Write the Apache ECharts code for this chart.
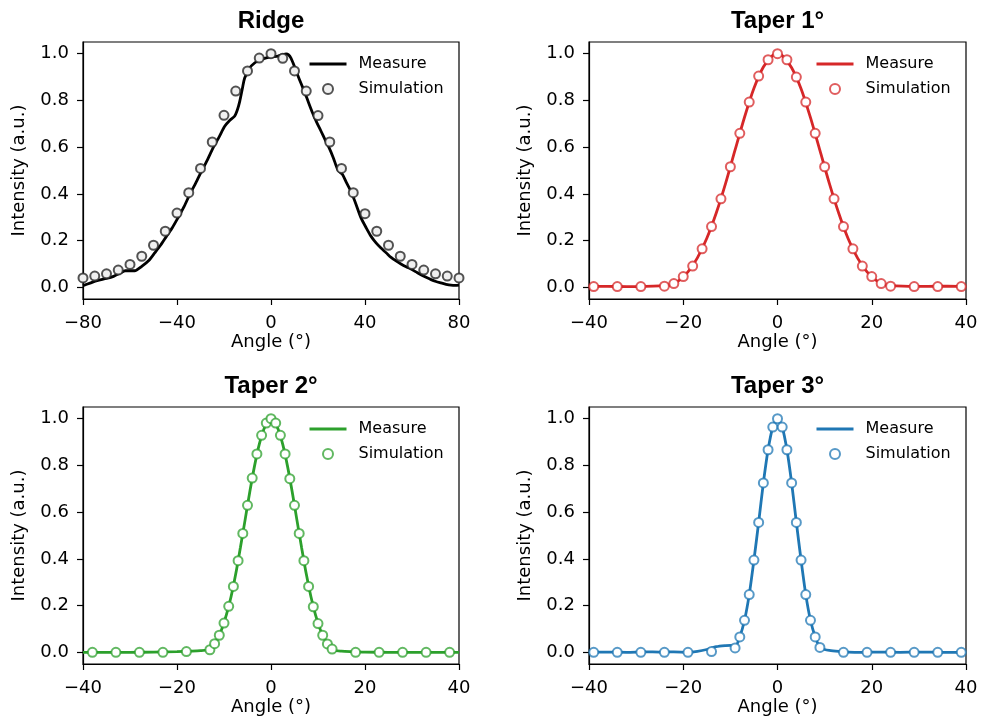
<!DOCTYPE html>
<html>
<head>
<meta charset="utf-8">
<script src="https://cdn.jsdelivr.net/npm/echarts@6/dist/echarts.min.js"></script>
<style>html,body{margin:0;padding:0;background:#fff;}#chart{width:981px;height:720px;}</style>
</head>
<body>
<div id="chart"></div>
<script>
// ---------- data ----------
const panelTitles = ['Ridge', 'Taper 1\u00b0', 'Taper 2\u00b0', 'Taper 3\u00b0'];
const yTicks = [0, 0.2, 0.4, 0.6, 0.8, 1.0];
const xAxisLabel = 'Angle (\u00b0)';
const yAxisLabel = 'Intensity (a.u.)';
const legendNames = ['Measure', 'Simulation'];

// Ridge
const ridgeSimX = [-80,-75,-70,-65,-60,-55,-50,-45,-40,-35,-30,-25,-20,-15,-10,-5,0,5,10,15,20,25,30,35,40,45,50,55,60,65,70,75,80];
const ridgeSimY = [0.040,0.048,0.058,0.074,0.098,0.133,0.180,0.240,0.318,0.405,0.509,0.622,0.736,0.840,0.926,0.981,1.000,0.980,0.926,0.840,0.735,0.622,0.509,0.405,0.315,0.240,0.180,0.133,0.098,0.074,0.058,0.048,0.040];
const ridgeMeasX = [-80,-77,-74,-70,-67,-64,-62,-58,-55,-52,-49.5,-47,-44.5,-42,-39.6,-37,-34.6,-32,-29.6,-27,-24.7,-22,-19.7,-17.5,-15.5,-14.3,-13.3,-12.2,-11.2,-9.1,-7,-4.8,-2,0,3,5,6.4,7.5,8.5,10,11.3,12.8,14.2,16,17.7,19.5,21.3,23,24.8,26.5,28.4,30.5,32,34,36,38.3,40.5,42.6,44.7,46.8,49,51.1,53.2,55.3,57.5,59.6,61.7,63.8,66,68.1,70.2,72.3,74.5,76.6,78.5,80];
const ridgeMeasY = [0.007,0.018,0.029,0.038,0.047,0.062,0.071,0.071,0.090,0.115,0.147,0.180,0.218,0.255,0.297,0.345,0.397,0.447,0.496,0.547,0.596,0.645,0.689,0.715,0.732,0.760,0.796,0.850,0.896,0.939,0.960,0.974,0.982,0.986,0.990,0.996,0.999,0.995,0.981,0.945,0.910,0.872,0.839,0.790,0.746,0.705,0.668,0.632,0.596,0.555,0.504,0.482,0.450,0.411,0.360,0.297,0.255,0.218,0.190,0.168,0.148,0.128,0.113,0.100,0.088,0.078,0.066,0.054,0.043,0.033,0.025,0.019,0.013,0.009,0.008,0.009];

// Taper 1
const t1SimX = [-39,-34,-29,-24,-22,-20,-18,-16,-14,-12,-10,-8,-6,-4,-2,0,2,4,6,8,10,12,14,16,18,20,22,24,29,34,39];
const t1SimY = [0.003,0.003,0.003,0.005,0.016,0.046,0.091,0.165,0.260,0.379,0.516,0.659,0.793,0.904,0.974,1.000,0.974,0.900,0.793,0.659,0.516,0.379,0.260,0.165,0.091,0.046,0.016,0.005,0.003,0.003,0.003];
const t1MeasX = [-40,-36,-32,-28,-25,-23,-21,-19,-17,-15,-13,-11,-9,-7,-5,-3,-1,0,1,3,5,7,9,11,13,15,17,19,21,23,25,28,32,36,40];
const t1MeasY = [0.003,0.004,0.003,0.004,0.006,0.009,0.028,0.066,0.126,0.210,0.318,0.446,0.588,0.728,0.852,0.943,0.993,1.000,0.992,0.940,0.850,0.726,0.586,0.445,0.317,0.208,0.125,0.066,0.029,0.010,0.006,0.004,0.004,0.005,0.003];

// Taper 2
const t2SimX = [-38,-33,-28,-23,-18,-13,-12,-11,-10,-9,-8,-7,-6,-5,-4,-3,-2,-1,0,1,2,3,4,5,6,7,8,9,10,11,12,13,18,23,28,33,38];
const t2SimY = [0.000,0.000,0.000,0.000,0.003,0.011,0.037,0.073,0.125,0.197,0.282,0.392,0.509,0.629,0.746,0.849,0.929,0.981,1.000,0.981,0.929,0.849,0.743,0.629,0.509,0.392,0.282,0.195,0.123,0.073,0.036,0.014,0.000,0.000,0.000,0.000,0.000];
const t2MeasX = [-40,-35,-30,-25,-20,-17,-15,-13.5,-12.5,-11.5,-10.5,-9.5,-8.5,-7.5,-6.5,-5.5,-4.5,-3.5,-2.5,-1.5,-0.5,0,0.5,1.5,2.5,3.5,4.5,5.5,6.5,7.5,8.5,9.5,10.5,11.5,12.5,13.5,15,17,20,25,30,35,40];
const t2MeasY = [0.000,0.000,0.000,0.001,0.003,0.005,0.007,0.011,0.024,0.054,0.098,0.160,0.238,0.336,0.450,0.568,0.688,0.798,0.890,0.956,0.992,1.000,0.992,0.956,0.890,0.798,0.688,0.568,0.450,0.336,0.238,0.158,0.097,0.054,0.024,0.009,0.005,0.003,0.001,0.000,0.000,0.000,0.000];

// Taper 3
const t3SimX = [-39,-34,-29,-24,-19,-14,-9,-8,-7,-6,-5,-4,-3,-2,-1,0,1,2,3,4,5,6,7,8,9,14,19,24,29,34,39];
const t3SimY = [0.000,0.000,0.000,0.000,0.000,0.003,0.019,0.066,0.137,0.247,0.395,0.556,0.725,0.867,0.964,1.000,0.964,0.867,0.725,0.556,0.395,0.247,0.137,0.066,0.021,0.000,0.000,0.000,0.000,0.000,0.000];
const t3MeasX = [-40,-36,-32,-28,-25,-22,-19,-17,-15,-13,-11,-10,-9,-8,-7,-6,-5,-4,-3,-2,-1,0,1,2,3,4,5,6,7,8,9,10,11,13,15,18,22,26,30,35,40];
const t3MeasY = [0.000,0.001,0.000,0.002,0.001,0.002,0.000,0.004,0.012,0.024,0.029,0.030,0.024,0.066,0.137,0.247,0.395,0.556,0.725,0.867,0.964,1.000,0.964,0.867,0.725,0.556,0.395,0.247,0.137,0.066,0.022,0.012,0.008,0.004,0.001,0.000,0.001,0.000,0.001,0.000,0.000];

const panelColors = ['#000000', '#d62728', '#2ca02c', '#1f77b4'];
const markerEdges = ['rgba(40,40,40,0.8)', 'rgba(214,39,40,0.75)', 'rgba(44,160,44,0.75)', 'rgba(31,119,180,0.75)'];
const markerFills = ['#f0f0f0', '#ffffff', '#ffffff', '#ffffff'];
const xRanges = [[-80, 80, 40], [-40, 40, 20], [-40, 40, 20], [-40, 40, 20]];
const simX = [ridgeSimX, t1SimX, t2SimX, t3SimX];
const simY = [ridgeSimY, t1SimY, t2SimY, t3SimY];
const measX = [ridgeMeasX, t1MeasX, t2MeasX, t3MeasX];
const measY = [ridgeMeasY, t1MeasY, t2MeasY, t3MeasY];

// ---------- layout ----------
const grids = [
  {left: 83, top: 42, width: 376, height: 257},
  {left: 589, top: 42, width: 377, height: 257},
  {left: 83, top: 407, width: 376, height: 257},
  {left: 589, top: 407, width: 377, height: 257}
];
const FONT = 'DejaVu Sans';
const zip = (xs, ys) => xs.map((x, i) => [x, ys[i]]);
const fmtX = v => (v < 0 ? '\u2212' + Math.abs(v) : String(v));

const option = {
  backgroundColor: '#fff',
  animation: false,
  title: [], grid: [], xAxis: [], yAxis: [], legend: [], series: []
};

grids.forEach((g, i) => {
  option.grid.push(Object.assign({show: true, borderColor: '#000', borderWidth: 1.2, containLabel: false}, g));
  option.title.push({
    text: panelTitles[i], left: g.left + g.width / 2, top: g.top - 33, padding: 0,
    textAlign: 'center', textVerticalAlign: 'top',
    textStyle: {fontFamily: 'Liberation Sans', fontWeight: 'bold', fontSize: 24, color: '#000'}
  });
  option.xAxis.push({
    type: 'value', gridIndex: i, min: xRanges[i][0], max: xRanges[i][1], interval: xRanges[i][2],
    name: xAxisLabel, nameLocation: 'middle', nameGap: 34,
    nameTextStyle: {fontFamily: FONT, fontSize: 18, color: '#000'},
    axisLine: {show: true, onZero: false, lineStyle: {color: '#000', width: 1.2}},
    axisTick: {show: true, inside: false, length: 6, lineStyle: {color: '#000', width: 1.2}},
    axisLabel: {formatter: fmtX, fontFamily: FONT, fontSize: 18, color: '#000', margin: 15},
    splitLine: {show: false}
  });
  option.yAxis.push({
    type: 'value', gridIndex: i, min: -0.05, max: 1.05,
    name: yAxisLabel, nameLocation: 'middle', nameGap: 55,
    nameTextStyle: {fontFamily: FONT, fontSize: 18, color: '#000'},
    axisLine: {show: true, onZero: false, lineStyle: {color: '#000', width: 1.2}},
    axisTick: {show: true, inside: false, length: 6, customValues: yTicks, lineStyle: {color: '#000', width: 1.2}},
    axisLabel: {customValues: yTicks, formatter: v => v.toFixed(1), fontFamily: FONT, fontSize: 18, color: '#000', margin: 14},
    splitLine: {show: false}
  });
  const mName = 'm' + i, sName = 's' + i;
  option.series.push({
    name: mName, type: 'line', xAxisIndex: i, yAxisIndex: i,
    data: zip(measX[i], measY[i]), showSymbol: false, symbol: 'none', smooth: 0.25,
    lineStyle: {color: panelColors[i], width: 2.8}, itemStyle: {color: panelColors[i]}, z: 2
  });
  option.series.push({
    name: sName, type: 'scatter', xAxisIndex: i, yAxisIndex: i,
    data: zip(simX[i], simY[i]), symbol: 'circle', symbolSize: 9,
    itemStyle: {color: markerFills[i], borderColor: markerEdges[i], borderWidth: 2, opacity: 1}, z: 3
  });
  option.legend.push({
    data: [
      {name: mName, itemStyle: {color: 'rgba(0,0,0,0)', borderWidth: 0, opacity: 0}, lineStyle: {width: 3, color: panelColors[i], opacity: 1}},
      {name: sName}
    ],
    orient: 'vertical',
    left: g.left + g.width - 151, top: g.top + 14, padding: 0,
    itemWidth: 37, itemHeight: 10, itemGap: 9, selectedMode: false,
    formatter: n => (n[0] === 'm' ? legendNames[0] : legendNames[1]),
    textStyle: {fontFamily: FONT, fontSize: 16, color: '#000', padding: [0, 0, 0, 7]}
  });
});

const chart = echarts.init(document.getElementById('chart'), null, {renderer: 'canvas'});
chart.setOption(option);
</script>
</body>
</html>
